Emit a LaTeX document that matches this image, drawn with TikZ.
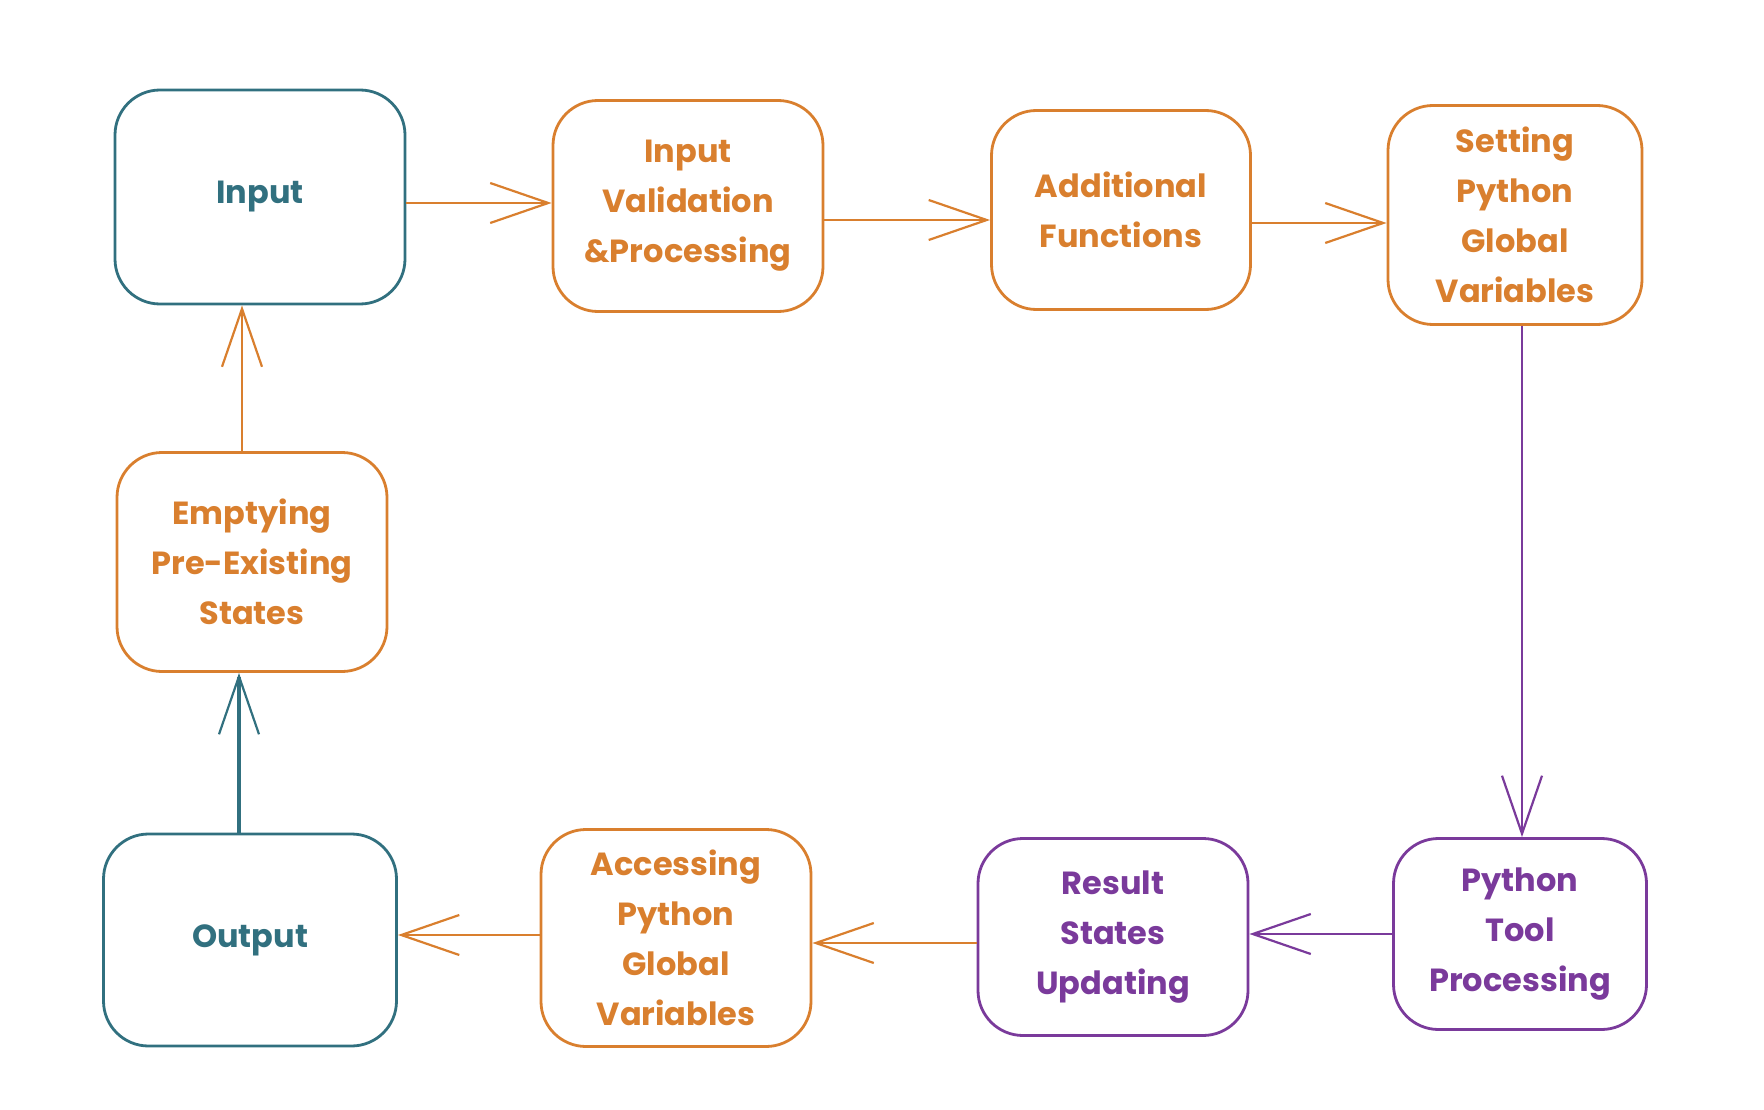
\documentclass[tikz,border=0pt]{standalone}
\usepackage{fontspec}
\setmainfont{Poppins}
\usetikzlibrary{arrows.meta}
\definecolor{tealc}{HTML}{31707F}
\definecolor{orangec}{HTML}{D97F2E}
\definecolor{purplec}{HTML}{7A3A9B}
\tikzset{
  box/.style={draw, line width=2.8pt, rounded corners=45pt, align=center,
    font=\fontsize{32}{50}\selectfont\bfseries, inner sep=0pt},
  tealbox/.style={box, draw=tealc, text=tealc},
  orangebox/.style={box, draw=orangec, text=orangec},
  purplebox/.style={box, draw=purplec, text=purplec},
  conn/.style={line width=2.2pt, -{Straight Barb[length=58pt,width=40pt,line width=2.2pt]}},
}
\begin{document}
\begin{tikzpicture}[x=1pt,y=-1pt]
\useasboundingbox (0,0) rectangle (1764,1110);
\node[tealbox, minimum width=290pt, minimum height=214pt] (input) at (260,197) {Input};
\node[orangebox, minimum width=270pt, minimum height=211pt] (valid) at (688,206) {Input\\Validation\\\&Processing};
\node[orangebox, minimum width=259pt, minimum height=199pt] (addf) at (1121,210) {Additional\\Functions};
\node[orangebox, minimum width=254pt, minimum height=219pt] (setpy) at (1515,215) {Setting\\Python\\Global\\Variables};
\node[purplebox, minimum width=253pt, minimum height=191pt] (ptool) at (1520,934) {Python\\Tool\\Processing};
\node[purplebox, minimum width=270pt, minimum height=197pt] (result) at (1113,937) {Result\\States\\Updating};
\node[orangebox, minimum width=270pt, minimum height=217pt] (access) at (676,938) {Accessing\\Python\\Global\\Variables};
\node[tealbox, minimum width=293pt, minimum height=212pt] (output) at (250,940) {Output};
\node[orangebox, minimum width=270pt, minimum height=219pt] (empty) at (252,562) {Emptying\\Pre-Existing\\States};

\draw[conn, orangec] (input.east |- 0,203) -- (valid.west |- 0,203);
\draw[conn, orangec] (valid.east |- 0,220) -- (addf.west |- 0,220);
\draw[conn, orangec] (addf.east |- 0,223) -- (setpy.west |- 0,223);
\draw[conn, purplec] (setpy.south -| 1522,0) -- (ptool.north -| 1522,0);
\draw[conn, purplec] (ptool.west |- 0,934) -- (result.east |- 0,934);
\draw[conn, orangec] (result.west |- 0,943) -- (access.east |- 0,943);
\draw[conn, orangec] (access.west |- 0,935) -- (output.east |- 0,935);
\draw[conn, tealc, line width=3.5pt] (output.north -| 239,0) -- (empty.south -| 239,0);
\draw[conn, orangec] (empty.north -| 242,0) -- (input.south -| 242,0);
\end{tikzpicture}
\end{document}
